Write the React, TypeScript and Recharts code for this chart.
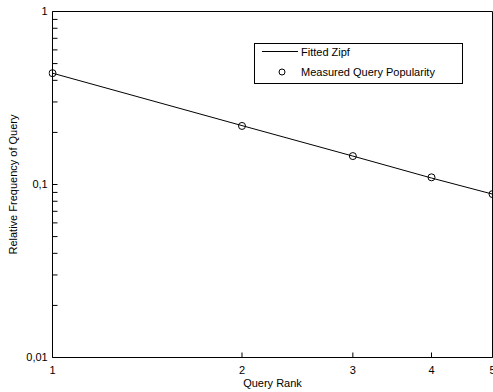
import React from "react";
import { ComposedChart, Line, XAxis, YAxis } from "recharts";

// query rank vs relative frequency (log-log)
const ranks = [1, 2, 3, 4, 5];
const fittedZipf = [0.44, 0.219, 0.146, 0.109, 0.088];
const measured = [0.44, 0.218, 0.146, 0.11, 0.088];

const xTicks = [1, 2, 3, 4, 5];
const yTicks = [
  0.01, 0.02, 0.03, 0.04, 0.05, 0.06, 0.07, 0.08, 0.09,
  0.1, 0.2, 0.3, 0.4, 0.5, 0.6, 0.7, 0.8, 0.9, 1,
];
const yLabels: Record<string, string> = { "0.01": "0,01", "0.1": "0,1", "1": "1" };

const data = ranks.map((r, i) => ({ rank: r, fitted: fittedZipf[i], measured: measured[i] }));

const FONT = '"Liberation Sans", Arial, sans-serif';
const tickStyle = { fill: "#000", fontSize: 11, fontFamily: FONT };

// legend drawn as an overlay so it doesn't eat plot space
const LegendBox = () => (
  <svg
    width={210}
    height={42}
    style={{ position: "absolute", left: 254, top: 43, display: "block" }}
  >
    <rect x={0.5} y={0.5} width={208} height={40} fill="#fff" stroke="#000" />
    <line x1={8} x2={44} y1={8.5} y2={8.5} stroke="#000" />
    <text x={47} y={8.5} dominantBaseline="central" fontSize={11} fontFamily={FONT}>
      Fitted Zipf
    </text>
    <circle cx={28} cy={29} r={3} fill="none" stroke="#000" />
    <text x={47} y={29} dominantBaseline="central" fontSize={11} fontFamily={FONT}>
      Measured Query Popularity
    </text>
  </svg>
);

export default function App() {
  return (
    <div style={{ position: "absolute", left: 0, top: 0, width: 493, height: 392 }}>
      <ComposedChart
        width={493}
        height={392}
        data={data}
        margin={{ top: 10.5, right: 0, bottom: 0, left: 0 }}
      >
        <XAxis
          dataKey="rank"
          type="number"
          scale="log"
          domain={[1, 5]}
          ticks={xTicks}
          interval={0}
          allowDataOverflow
          height={34.5}
          stroke="#000"
          tickSize={-5}
          tickMargin={13.5}
          tick={tickStyle}
          label={{
            value: "Query Rank",
            position: "insideTop",
            offset: 21.5,
            fill: "#000",
            fontSize: 11,
            fontFamily: FONT,
          }}
        />
        <XAxis
          xAxisId="top"
          dataKey="rank"
          type="number"
          scale="log"
          domain={[1, 5]}
          ticks={xTicks}
          interval={0}
          allowDataOverflow
          orientation="top"
          height={1}
          stroke="#000"
          tickSize={-5}
          tick={false}
        />
        <YAxis
          type="number"
          scale="log"
          domain={[0.01, 1]}
          ticks={yTicks}
          interval={0}
          allowDataOverflow
          width={52.5}
          stroke="#000"
          tickSize={-5}
          tickMargin={9.8}
          tick={tickStyle}
          tickFormatter={(v: number) => yLabels[String(v)] ?? ""}
          label={{
            value: "Relative Frequency of Query",
            angle: -90,
            position: "center",
            dx: -13,
            fill: "#000",
            fontSize: 11,
            fontFamily: FONT,
          }}
        />
        <YAxis
          yAxisId="right"
          orientation="right"
          type="number"
          scale="log"
          domain={[0.01, 1]}
          ticks={yTicks}
          interval={0}
          allowDataOverflow
          width={0.5}
          stroke="#000"
          tickSize={-5}
          tick={false}
        />
        <Line
          dataKey="fitted"
          name="Fitted Zipf"
          stroke="#000"
          strokeWidth={1}
          dot={false}
          isAnimationActive={false}
        />
        <Line
          dataKey="measured"
          name="Measured Query Popularity"
          stroke="none"
          dot={{ r: 3.5, fill: "none", stroke: "#000", strokeWidth: 1, clipDot: false }}
          isAnimationActive={false}
        />
      </ComposedChart>
      <LegendBox />
    </div>
  );
}
